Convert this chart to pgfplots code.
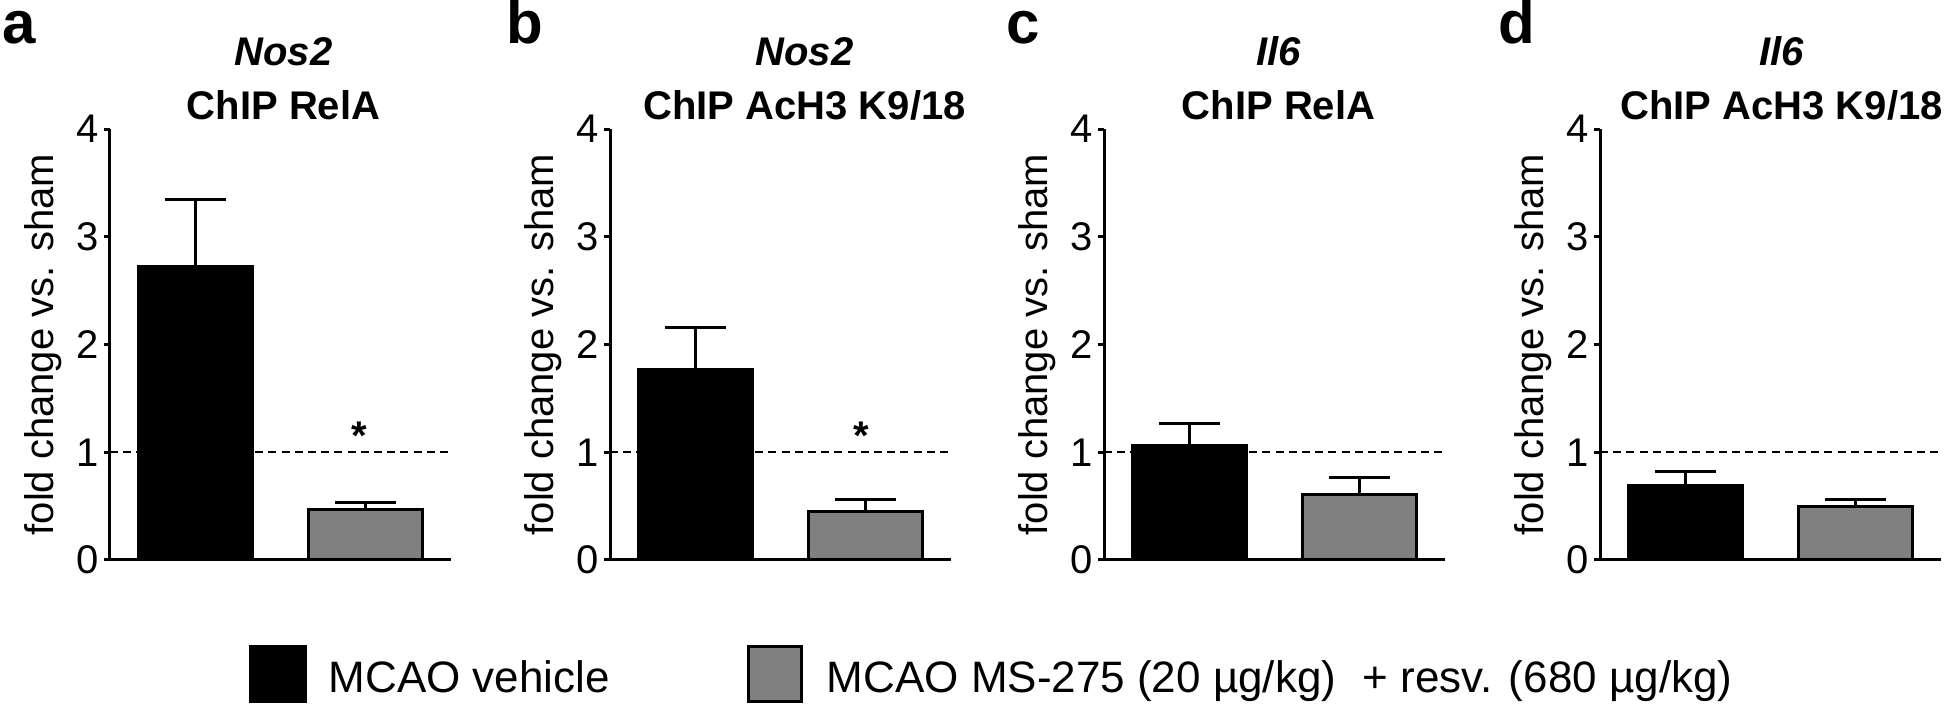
\documentclass[border=0pt]{standalone}
\usepackage{fontspec}
\setmainfont{Liberation Sans}
\usepackage{pgfplots}
\pgfplotsset{compat=1.18}
\definecolor{bargray}{RGB}{128,128,128}
\pgfplotsset{
  panel/.style={
    scale only axis, width=85.25pt, height=107.75pt,
    xmin=0, xmax=4, ymin=0, ymax=4,
    clip=false,
    axis x line*=bottom, axis y line*=left,
    axis line style={line width=0.75pt, -},
    every outer x axis line/.append style={-},
    every outer y axis line/.append style={-},
    xtick=\empty, ytick={0,1,2,3,4},
    tick align=outside, major tick length=1.5pt,
    ytick style={line width=0.75pt, black},
    yticklabel style={font=\fontsize{10}{12}\selectfont, inner sep=1pt},
    /pgf/number format/assume math mode=true,
    ylabel={fold change vs. sham},
    ylabel style={font=\fontsize{10}{12}\selectfont, at={(axis description cs:-0.0997,0.5)}, anchor=south},
  },
  refline/.style={black, line width=0.5pt, dash pattern=on 2pt off 1.3pt, mark=none},
  blackbar/.style={ybar, bar width=28.5pt, bar shift=0pt, fill=black, draw=black, line width=0.75pt,
    error bars/.cd, y dir=plus, y explicit, error mark=-,
    error bar style={line width=0.75pt, black},
    error mark options={rotate=90, mark size=7.6pt, line width=0.75pt, black}},
  graybar/.style={ybar, bar width=28.5pt, bar shift=0pt, fill=bargray, draw=black, line width=0.75pt,
    error bars/.cd, y dir=plus, y explicit, error mark=-,
    error bar style={line width=0.75pt, black},
    error mark options={rotate=90, mark size=7.6pt, line width=0.75pt, black}},
}
\newcommand{\tfont}{\bfseries\fontsize{10}{12}\selectfont}
\begin{document}
\begin{tikzpicture}
\useasboundingbox (0,0) rectangle (486.5pt,176.5pt);

% panel a
\begin{axis}[panel, at={(27.5pt,36.5pt)}, anchor=south west]
\addplot[refline] coordinates {(0,1) (4,1)};
\addplot[blackbar] coordinates {(1,2.72) +- (0,0.63)};
\addplot[graybar] coordinates {(3,0.47) +- (0,0.06)};
\node[anchor=base, font=\tfont, inner sep=0] at (axis cs:2.93,1.03) {*};
\node[anchor=base, font=\tfont, inner sep=0, xshift=0.75pt, yshift=2.5pt] at (axis description cs:0.5,1) {ChIP RelA};
\node[anchor=base, font=\tfont\itshape, inner sep=0, xshift=0.75pt, yshift=16pt] at (axis description cs:0.5,1) {Nos2};
\end{axis}

% panel b
\begin{axis}[panel, at={(152.5pt,36.5pt)}, anchor=south west]
\addplot[refline] coordinates {(0,1) (4,1)};
\addplot[blackbar] coordinates {(1,1.77) +- (0,0.39)};
\addplot[graybar] coordinates {(3,0.45) +- (0,0.11)};
\node[anchor=base, font=\tfont, inner sep=0] at (axis cs:2.95,1.03) {*};
\node[anchor=base, font=\tfont, inner sep=0, xshift=6pt, yshift=2.5pt] at (axis description cs:0.5,1) {ChIP AcH3 K9/18};
\node[anchor=base, font=\tfont\itshape, inner sep=0, xshift=6pt, yshift=16pt] at (axis description cs:0.5,1) {Nos2};
\end{axis}

% panel c
\begin{axis}[panel, at={(276pt,36.5pt)}, anchor=south west]
\addplot[refline] coordinates {(0,1) (4,1)};
\addplot[blackbar] coordinates {(1,1.06) +- (0,0.21)};
\addplot[graybar] coordinates {(3,0.61) +- (0,0.16)};
\node[anchor=base, font=\tfont, inner sep=0, xshift=1pt, yshift=2.5pt] at (axis description cs:0.5,1) {ChIP RelA};
\node[anchor=base, font=\tfont\itshape, inner sep=0, xshift=1pt, yshift=16pt] at (axis description cs:0.5,1) {Il6};
\end{axis}

% panel d
\begin{axis}[panel, at={(400pt,36.5pt)}, anchor=south west]
\addplot[refline] coordinates {(0,1) (4,1)};
\addplot[blackbar] coordinates {(1,0.69) +- (0,0.13)};
\addplot[graybar] coordinates {(3,0.50) +- (0,0.06)};
\node[anchor=base, font=\tfont, inner sep=0, xshift=2.75pt, yshift=2.5pt] at (axis description cs:0.5,1) {ChIP AcH3 K9/18};
\node[anchor=base, font=\tfont\itshape, inner sep=0, xshift=2.75pt, yshift=16pt] at (axis description cs:0.5,1) {Il6};
\end{axis}

% panel letters
\node[anchor=base west, inner sep=0, font=\bfseries\fontsize{15}{18}\selectfont] at (0.5pt,165.5pt) {a};
\node[anchor=base west, inner sep=0, font=\bfseries\fontsize{15}{18}\selectfont] at (126.5pt,165.5pt) {b};
\node[anchor=base west, inner sep=0, font=\bfseries\fontsize{15}{18}\selectfont] at (251.5pt,165.5pt) {c};
\node[anchor=base west, inner sep=0, font=\bfseries\fontsize{15}{18}\selectfont] at (374.5pt,165.5pt) {d};

% legend
\fill[black] (62.25pt,0.75pt) rectangle (76.75pt,15.25pt);
\node[anchor=base west, inner sep=0, font=\fontsize{11}{13}\selectfont] at (82pt,3.5pt) {MCAO vehicle};
\filldraw[fill=bargray, draw=black, line width=0.75pt] (187.1pt,1.1pt) rectangle (200.4pt,14.9pt);
\node[anchor=base west, inner sep=0, font=\fontsize{11}{13}\selectfont] at (206.5pt,3.5pt) {MCAO MS-275 (20 µg/kg)\hspace{0.6em}+ resv. (680 µg/kg)};
\end{tikzpicture}
\end{document}
